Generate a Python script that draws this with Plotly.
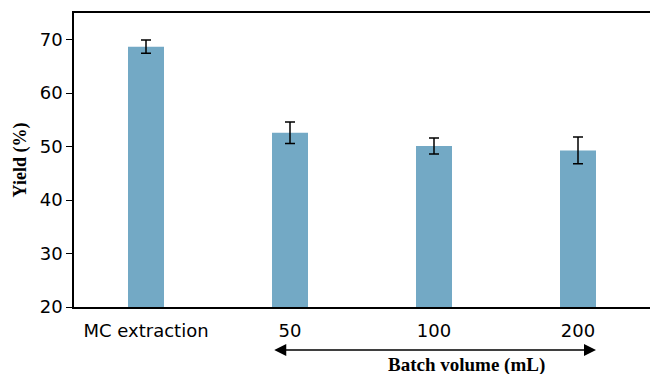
import plotly.graph_objects as go

categories = ["MC extraction", "50", "100", "200"]
yield_values = [68.7, 52.6, 50.1, 49.3]
yield_errors = [1.25, 2.0, 1.5, 2.5]
y_ticks = [20, 30, 40, 50, 60, 70]

fig = go.Figure()
fig.add_trace(go.Bar(
    x=categories, y=yield_values,
    marker=dict(color="#73a9c5", line=dict(width=0)),
    width=0.25,
    error_y=dict(type="data", array=yield_errors, color="black", thickness=1.5, width=5),
))

fig.update_layout(
    width=650, height=374,
    margin=dict(l=74, r=0, t=13, b=67, autoexpand=False),
    plot_bgcolor="white", paper_bgcolor="white",
    showlegend=False,
    font=dict(family="DejaVu Sans", size=18, color="black"),
)
fig.update_xaxes(
    type="category", range=[-0.5, 3.5], automargin=False,
    showline=True, linecolor="black", linewidth=1.5, mirror=True,
    ticks="", showgrid=False, tickfont=dict(size=18), ticklabelstandoff=7,
)
fig.update_yaxes(
    range=[20, 75], tickvals=y_ticks, automargin=False,
    showline=True, linecolor="black", linewidth=1.5, mirror=False,
    ticks="outside", ticklen=6, tickwidth=1, tickcolor="black",
    showgrid=False, zeroline=False, tickfont=dict(size=18),
    title=dict(text="Yield (%)", font=dict(family="Liberation Serif", size=18, weight="bold"), standoff=8),
)

fig.add_annotation(
    x=3.125, xref="x", y=-0.146, yref="paper",
    ax=0.88, axref="x", ay=0, ayref="pixel",
    text="", showarrow=True, arrowside="end+start",
    arrowhead=2, arrowsize=1.6, arrowwidth=1.5, arrowcolor="black",
)
fig.add_annotation(
    x=0.681, xref="paper", y=-0.197, yref="paper",
    xanchor="center", yanchor="middle",
    text="Batch volume (mL)", showarrow=False,
    font=dict(family="Liberation Serif", size=19, weight="bold"),
)

fig.write_html(
    "out.html",
    config={"displayModeBar": False},
    post_script="document.body.style.margin='0';document.body.style.overflow='hidden';",
)
